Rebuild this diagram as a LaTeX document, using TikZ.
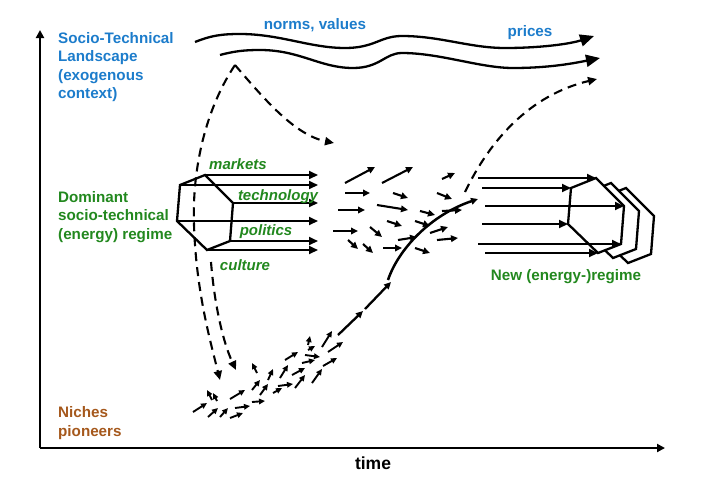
\documentclass[tikz,border=0pt]{standalone}
\usepackage{fontspec}
\setmainfont{Liberation Sans}
\usetikzlibrary{arrows.meta}
\definecolor{Land}{HTML}{1C7CCB}
\definecolor{Regime}{HTML}{22881E}
\definecolor{Niche}{HTML}{A5581C}
\definecolor{Ink}{HTML}{000000}
\tikzset{
  lab/.style={font=\fontsize{15.2}{18.2}\selectfont\bfseries,align=left,inner sep=0pt},
  dim/.style={font=\fontsize{15}{18}\selectfont\bfseries\itshape,Regime,inner sep=0pt},
  timeaxis/.style={Ink,line width=2.4pt,-{Triangle[length=8pt,width=8pt]}},
  stream/.style={Ink,line width=2.1pt,-{Triangle[length=9pt,width=8pt]}},
  flow/.style={Ink,line width=2.1pt,-{Triangle[length=7pt,width=6.5pt]}},
  seed/.style={Ink,line width=1.9pt,-{Triangle[length=6pt,width=5.5pt]}},
  drift/.style={Ink,line width=2.1pt,dash pattern=on 9pt off 6pt,-{Triangle[length=9pt,width=8pt]}},
  wave/.style={Ink,line width=2.3pt,-{Triangle[length=14pt,width=12pt]}},
  hexa/.style={Ink,line width=2.3pt,line join=miter},
}
\newcommand{\hexagon}[3][]{%
  \draw[hexa,#1] #2 coordinate (#3-1) -- ++(28,28) coordinate (#3-2)
    -- ++(-3,38) coordinate (#3-3) -- ++(-23,9) coordinate (#3-4)
    -- ++(-30,-29) coordinate (#3-5) -- ++(3,-36) coordinate (#3-6) -- cycle;}
\begin{document}
\begin{tikzpicture}[x=1pt,y=-1pt]
  \useasboundingbox (0,0) rectangle (703,482);
  % axes
  \coordinate (origin) at (40,448);
  \coordinate (up) at (40,30);
  \coordinate (right) at (665,448);
  \draw[timeaxis] (origin) -- (up);
  \draw[timeaxis] (origin) -- (right);
  \node[font=\fontsize{17.5}{20}\selectfont\bfseries,inner sep=0pt] (time) at (373,463) {time};

  % levels
  \node[lab,Land,anchor=west] (land) at (58,67) {Socio-Technical\\Landscape\\(exogenous\\context)};
  \node[lab,Regime,anchor=west] (regime) at (58,217) {Dominant\\socio-technical\\(energy) regime};
  \node[lab,Niche,anchor=west] (niche) at (58,423) {Niches\\pioneers};
  \node[lab,Land] (norms) at (315,25) {norms, values};
  \node[lab,Land] (prices) at (530,33) {prices};
  \node[lab,Regime] (newreg) at (566,277) {New (energy-)regime};

  % landscape pressure
  \draw[wave] (195,42) .. controls (210,36) and (220,34) .. (240,34)
    .. controls (280,34) and (310,48) .. (345,48)
    .. controls (375,48) and (380,36) .. (402,36)
    .. controls (440,36) and (470,48) .. (505,48)
    .. controls (540,48) and (570,44) .. (594,36);
  \draw[wave] (220,55) .. controls (235,51) and (245,50) .. (260,50)
    .. controls (300,50) and (320,68) .. (353,68)
    .. controls (380,68) and (385,53) .. (402,53)
    .. controls (440,53) and (480,68) .. (513,68)
    .. controls (550,68) and (575,63) .. (600,58);

  % old regime
  \hexagon{(205,175)}{old}
  \coordinate (rim) at (318,0);
  \foreach \v in {1,...,6}
    \draw[stream] (old-\v) -- (old-\v -| rim);
  \node[dim] (markets) at (238,164) {markets};
  \node[dim] (technology) at (278,197) {technology};
  \node[dim] (politics) at (266,232) {politics};
  \node[dim] (culture) at (245,265) {culture};

  % dashed influences
  \coordinate (peak) at (235,65);
  \draw[drift] (peak) .. controls (265,100) and (295,135) .. (334,143);
  \draw[drift] (peak) .. controls (205,110) and (192,170) .. (194,225)
    .. controls (196,290) and (210,340) .. (220,380);
  \draw[drift] (211,262) .. controls (214,300) and (222,340) .. (236,370);
  \draw[drift] (465,192) .. controls (490,140) and (530,95) .. (597,79);

  % unsettled regime
  \foreach \xa/\ya/\xb/\yb in {
    345/183/375/167, 382/183/413/167, 442/179/455/173, 345/193/370/193,
    393/193/408/198, 437/193/452/199, 338/210/365/210, 377/205/408/210,
    420/211/435/215, 442/211/462/210, 333/231/358/231, 387/221/402/226,
    415/221/430/226, 370/227/382/237, 430/233/448/227, 348/240/358/249,
    363/244/373/253, 383/248/402/248, 398/240/417/237, 437/240/458/238,
    415/248/430/253}
    \draw[flow] (\xa,\ya) -- (\xb,\yb);

  % niche experiments
  \foreach \xa/\ya/\xb/\yb in {
    193/412/207/403, 208/417/218/408, 220/417/228/408, 230/418/243/413,
    235/408/250/406, 212/400/207/390, 217/401/213/393, 230/399/245/390,
    252/402/265/401, 252/390/260/380, 260/395/268/384, 268/380/273/369,
    257/373/252/363, 273/393/282/388, 278/386/293/384, 280/378/288/365,
    285/360/298/352, 292/375/305/368, 295/388/305/375, 302/363/315/360,
    305/355/320/357, 308/350/315/346, 308/345/310/336, 312/383/322/369,
    323/366/337/358, 322/347/332/331, 328/352/343/342}
    \draw[seed] (\xa,\ya) -- (\xb,\yb);

  % breakthrough
  \draw[flow,line width=2.3pt] (338,335) -- (363,311);
  \draw[flow,line width=2.3pt] (365,309) -- (391,282);
  \draw[flow,line width=2.5pt] (388,280) .. controls (398,250) and (430,215) .. (478,199);

  % new regime
  \hexagon[fill=white]{(626,188)}{back}
  \hexagon[fill=white]{(611,183)}{mid}
  \hexagon[fill=white]{(596,178)}{new}
  \foreach \x/\v in {478/1, 482/6, 485/2, 482/5, 478/3, 485/4}
    \draw[stream] (\x,0 |- new-\v) -- (new-\v);
\end{tikzpicture}
\end{document}
